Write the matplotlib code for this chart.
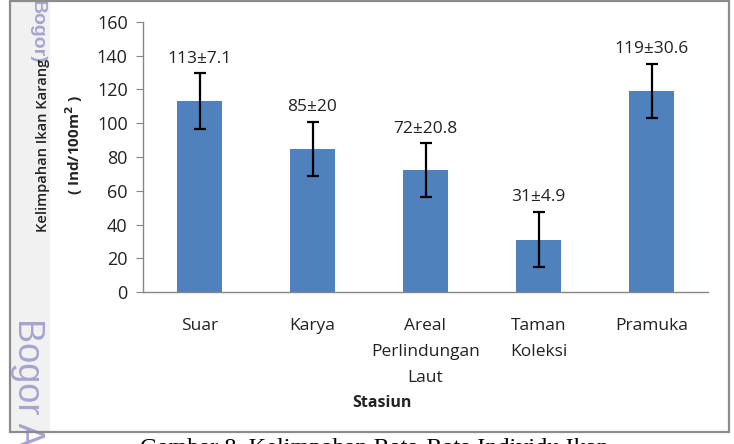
import matplotlib
matplotlib.use("Agg")
import matplotlib.pyplot as plt
from matplotlib.patches import Rectangle

categories = ["Suar", "Karya", "Areal\nPerlindungan\nLaut", "Taman\nKoleksi", "Pramuka"]
values = [113, 85, 72, 31, 119]
errors = [16.5, 16, 16, 16.3, 16]
labels = ["113±7.1", "85±20", "72±20.8", "31±4.9", "119±30.6"]
yticks = [0, 20, 40, 60, 80, 100, 120, 140, 160]

W, H = 734, 444
fig = plt.figure(figsize=(W / 100, H / 100), dpi=100)
fig.patch.set_facecolor("white")

def fx(px):
    return px / W

def fy(py):
    return 1 - py / H

# left gray margin strip with watermark
fig.patches.append(Rectangle((fx(10), fy(432)), fx(50) - fx(10), fy(0) - fy(432),
                             transform=fig.transFigure, facecolor="#f1f1f1",
                             edgecolor="none", zorder=0))
fig.text(fx(37), fy(0), "Bogor)", rotation=-90, va="top", ha="center",
         fontsize=14, color="#a5a5cf", family="Liberation Sans", fontweight="bold")
fig.text(fx(27), fy(318), "Bogor A", rotation=-90, va="top", ha="center",
         fontsize=26, color="#a5a5cf", family="Liberation Sans")

# outer frame
fig.patches.append(Rectangle((fx(10), fy(432)), fx(729) - fx(10), fy(1) - fy(432),
                             transform=fig.transFigure, facecolor="none",
                             edgecolor="#8c8c8c", linewidth=1.6, zorder=5))

ax = fig.add_axes([fx(143), fy(292), fx(708) - fx(143), fy(22) - fy(292)])
ax.set_facecolor("none")
x = range(len(categories))
ax.bar(x, values, width=0.4, color="#4f81bd", zorder=2)
ax.errorbar(x, values, yerr=errors, fmt="none", ecolor="black",
            elinewidth=1.6, capsize=4, capthick=1.6, zorder=3)
for xi, v, e, lab in zip(x, values, errors, labels):
    ax.annotate(lab, (xi, v + e), xytext=(0, 5), textcoords="offset points",
                ha="center", va="bottom", fontsize=12.5, family="Open Sans",
                color="#222222")

ax.set_xlim(-0.5, len(categories) - 0.5)
ax.set_ylim(0, 160)
ax.set_yticks(yticks)
ax.set_yticklabels([str(t) for t in yticks], fontsize=13, family="Open Sans", color="#222222")
ax.set_xticks(list(x))
ax.set_xticklabels(categories, fontsize=12.5, family="Open Sans", color="#222222",
                   linespacing=1.8, va="top")
ax.tick_params(axis="x", length=0, pad=19)
ax.tick_params(axis="y", length=5, color="#868686", pad=6, direction="out")
for s in ["top", "right"]:
    ax.spines[s].set_visible(False)
for s in ["left", "bottom"]:
    ax.spines[s].set_color("#868686")
    ax.spines[s].set_linewidth(1.0)

# y label (two lines)
fig.text(fx(43), fy(145), "Kelimpahan Ikan Karang", rotation=90, ha="center", va="center",
         fontsize=10.5, family="Open Sans", fontweight="semibold", color="#222222")
fig.text(fx(74), fy(145), "( Ind/100m$^\\mathbf{2}$ )", rotation=90, ha="center", va="center",
         fontsize=11, family="Open Sans", fontweight="bold", color="#222222")

fig.text(fx(382), fy(403), "Stasiun", ha="center", va="center", fontsize=11.5,
         family="Open Sans", fontweight="bold", color="#222222")

# caption (cut off at the bottom edge)
fig.text(fx(140), fy(438), "Gambar 8. Kelimpahan Rata-Rata Individu Ikan", ha="left", va="top",
         fontsize=17.5, family="Liberation Serif", color="black")

fig.savefig("out.png", dpi=100)
